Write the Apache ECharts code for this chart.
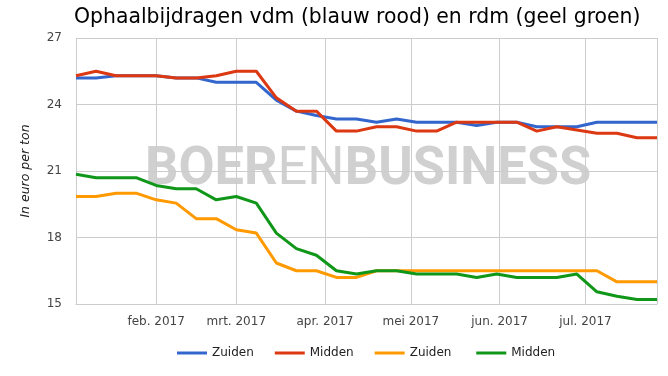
<!DOCTYPE html>
<html>
<head>
<meta charset="utf-8">
<script src="https://cdn.jsdelivr.net/npm/echarts@6/dist/echarts.min.js"></script>
<style>
  html, body { margin: 0; padding: 0; background: #fff; }
  #chart { width: 668px; height: 376px; }
</style>
</head>
<body>
<div id="chart"></div>
<script>
// weekly observations (Wednesdays)
const dates = [
  "2017-01-04", "2017-01-11", "2017-01-18", "2017-01-25",
  "2017-02-01", "2017-02-08", "2017-02-15", "2017-02-22",
  "2017-03-01", "2017-03-08", "2017-03-15", "2017-03-22", "2017-03-29",
  "2017-04-05", "2017-04-12", "2017-04-19", "2017-04-26",
  "2017-05-03", "2017-05-10", "2017-05-17", "2017-05-24", "2017-05-31",
  "2017-06-07", "2017-06-14", "2017-06-21", "2017-06-28",
  "2017-07-05", "2017-07-12", "2017-07-19", "2017-07-26"
];

// vdm
const zuidenVdm = [
  25.2, 25.2, 25.3, 25.3, 25.3, 25.2, 25.2, 25.0, 25.0, 25.0,
  24.2, 23.7, 23.5, 23.35, 23.35, 23.2, 23.35, 23.2, 23.2, 23.2,
  23.05, 23.2, 23.2, 23.0, 23.0, 23.0, 23.2, 23.2, 23.2, 23.2
];
const middenVdm = [
  25.3, 25.5, 25.3, 25.3, 25.3, 25.2, 25.2, 25.3, 25.5, 25.5,
  24.3, 23.7, 23.7, 22.8, 22.8, 23.0, 23.0, 22.8, 22.8, 23.2,
  23.2, 23.2, 23.2, 22.8, 23.0, 22.85, 22.7, 22.7, 22.5, 22.5
];
// rdm
const zuidenRdm = [
  19.85, 19.85, 20.0, 20.0, 19.7, 19.55, 18.85, 18.85, 18.35, 18.2,
  16.85, 16.5, 16.5, 16.2, 16.2, 16.5, 16.5, 16.5, 16.5, 16.5,
  16.5, 16.5, 16.5, 16.5, 16.5, 16.5, 16.5, 16.0, 16.0, 16.0
];
const middenRdm = [
  20.85, 20.7, 20.7, 20.7, 20.35, 20.2, 20.2, 19.7, 19.85, 19.55,
  18.2, 17.5, 17.2, 16.5, 16.35, 16.5, 16.5, 16.35, 16.35, 16.35,
  16.2, 16.35, 16.2, 16.2, 16.2, 16.35, 15.55, 15.35, 15.2, 15.2
];

const maanden = ["jan.", "feb.", "mrt.", "apr.", "mei", "jun.", "jul.", "aug.", "sep.", "okt.", "nov.", "dec."];
const font = "DejaVu Sans";

function pairs(vals) {
  return dates.map((d, i) => [new Date(d + "T00:00:00").getTime(), vals[i]]);
}

function line(name, vals, color) {
  return {
    name: name,
    type: "line",
    data: pairs(vals),
    symbol: "none",
    lineStyle: { width: 3, color: color },
    itemStyle: { color: color },
    z: 3
  };
}

const chart = echarts.init(document.getElementById("chart"), null, { renderer: "canvas" });

chart.setOption({
  animation: false,
  backgroundColor: "#fff",
  title: {
    text: "Ophaalbijdragen vdm (blauw rood) en rdm (geel groen)",
    left: 69,
    top: 3,
    textStyle: { fontFamily: font, fontSize: 20.4, fontWeight: "normal", color: "#000" }
  },
  // watermark behind the plot
  graphic: [{
    type: "text",
    left: 145,
    top: 143,
    z: -1,
    silent: true,
    scaleX: 0.97,
    style: {
      text: "{b|BOER}{l|EN}{b|BUSINESS}",
      rich: {
        b: { fontFamily: "Roboto", fontWeight: "bold", fontSize: 54, fill: "#d0d0d0" },
        l: { fontFamily: "Roboto", fontWeight: "normal", fontSize: 54, fill: "#d0d0d0" }
      }
    }
  }],
  legend: {
    bottom: 12,
    left: 172,
    icon: "rect",
    itemWidth: 30,
    itemHeight: 3,
    itemGap: 21,
    textStyle: { fontFamily: font, fontSize: 12, color: "#222" },
    data: ["Zuiden", "Midden", "Zuiden ", "Midden "]
  },
  grid: { left: 76, right: 11, top: 38, bottom: 72 },
  xAxis: {
    type: "time",
    min: new Date("2017-01-04T00:00:00").getTime(),
    max: new Date("2017-07-26T00:00:00").getTime(),
    axisLine: { lineStyle: { color: "#ccc" } },
    axisTick: { show: false },
    splitLine: { show: true, lineStyle: { color: "#ccc", width: 1 } },
    axisLabel: {
      fontFamily: font,
      fontSize: 12,
      color: "#444",
      margin: 12,
      showMinLabel: false,
      showMaxLabel: false,
      formatter: function (v) {
        const d = new Date(v);
        return maanden[d.getMonth()] + " " + d.getFullYear();
      }
    }
  },
  yAxis: {
    type: "value",
    min: 15,
    max: 27,
    interval: 3,
    name: "In euro per ton",
    nameLocation: "middle",
    nameGap: 44,
    nameTextStyle: { fontFamily: font, fontSize: 12.5, fontStyle: "italic", color: "#222" },
    axisLine: { show: false },
    axisTick: { show: false },
    splitLine: { lineStyle: { color: "#ccc", width: 1 } },
    axisLabel: { fontFamily: font, fontSize: 12, color: "#444", margin: 14 }
  },
  series: [
    line("Zuiden", zuidenVdm, "#3366cc"),
    line("Midden", middenVdm, "#dc3912"),
    line("Zuiden ", zuidenRdm, "#ff9900"),
    line("Midden ", middenRdm, "#109618")
  ]
});
</script>
</body>
</html>
